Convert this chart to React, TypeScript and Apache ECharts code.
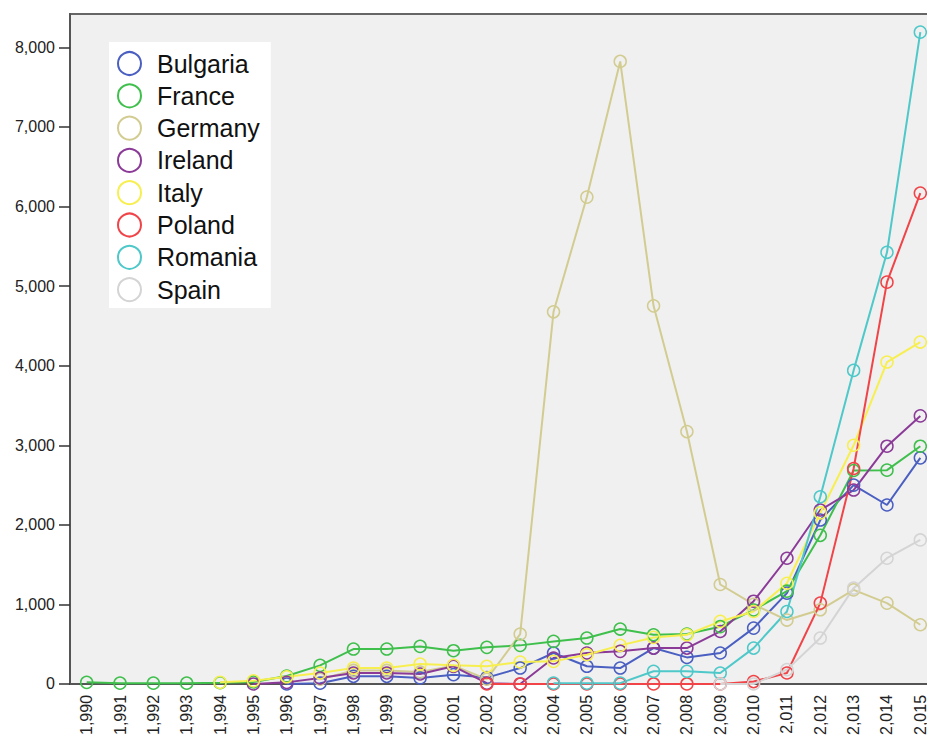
import React, { useEffect, useRef } from "react";
import * as echarts from "echarts";

const years = [
  1990, 1991, 1992, 1993, 1994, 1995, 1996, 1997, 1998, 1999, 2000, 2001, 2002,
  2003, 2004, 2005, 2006, 2007, 2008, 2009, 2010, 2011, 2012, 2013, 2014, 2015,
];

const N = null;

const bulgaria = [N, N, N, N, N, N, 0, 10, 96, 96, 75, 117, 80, 200, 389, 222, 200, 451, 334, 389, 702, 1141, 2060, 2499, 2249, 2842];
const france = [20, 10, 10, 10, 15, 25, 100, 234, 439, 439, 472, 418, 460, 485, 535, 577, 690, 618, 627, 720, 930, 1166, 1868, 2683, 2687, 2988];
const germany = [N, N, N, N, N, N, N, 60, 170, 170, 150, 230, 60, 627, 4677, 6119, 7824, 4752, 3172, 1250, 1000, 803, 932, 1183, 1016, 744];
const ireland = [N, N, N, N, N, 0, 20, 75, 138, 138, 125, 222, 10, 0, 326, 389, 410, 451, 451, 660, 1040, 1580, 2186, 2437, 2988, 3369];
const italy = [N, N, N, N, 20, 40, 90, 138, 200, 200, 250, 234, 222, 276, 284, 368, 485, 585, 618, 786, 911, 1266, 2150, 3000, 4046, 4297];
const poland = [N, N, N, N, N, N, N, N, N, N, N, N, 0, 0, 0, 0, 0, 0, 0, 0, 30, 138, 1016, 2708, 5050, 6169];
const romania = [N, N, N, N, N, N, N, N, N, N, N, N, N, N, 10, 10, 10, 159, 159, 138, 451, 911, 2353, 3941, 5425, 8192];
const spain = [N, N, N, N, N, N, N, N, N, N, N, N, N, N, N, N, N, N, N, 0, 0, 180, 577, 1204, 1580, 1810];

const seriesNames = ["Bulgaria", "France", "Germany", "Ireland", "Italy", "Poland", "Romania", "Spain"];
const seriesData = [bulgaria, france, germany, ireland, italy, poland, romania, spain];
const seriesColors = ["#4a5fc1", "#3fbf4c", "#d2cc91", "#8b3a98", "#f7ef4f", "#f04448", "#4ec8c9", "#d4d4d4"];

const yTicks = [0, 1000, 2000, 3000, 4000, 5000, 6000, 7000, 8000];

const fmt = (v: number) => String(v).replace(/\B(?=(\d{3})+(?!\d))/g, ",");

export default function App() {
  const ref = useRef<HTMLDivElement>(null);
  useEffect(() => {
    if (!ref.current) return;
    const chart = echarts.init(ref.current, null, { renderer: "svg" });
    const font = "Liberation Sans, Arial, sans-serif";
    chart.setOption({
      animation: false,
      backgroundColor: "#ffffff",
      textStyle: { fontFamily: font },
      grid: {
        left: 70,
        top: 14,
        bottom: 52,
        right: 0,
        show: true,
        backgroundColor: "#f0f0f0",
        borderColor: "#666666",
        borderWidth: 2,
      },
      legend: {
        orient: "vertical",
        left: 109,
        top: 42,
        backgroundColor: "#ffffff",
        padding: [9, 11, 6, 8],
        itemWidth: 23,
        itemHeight: 23,
        itemGap: 7.3,
        icon: "circle",
        textStyle: {
          fontSize: 25,
          lineHeight: 23,
          color: "#111111",
          fontFamily: font,
          padding: [0, 0, 0, 11],
        },
        data: seriesNames.map((n, i) => ({
          name: n,
          itemStyle: { color: "#ffffff", borderColor: seriesColors[i], borderWidth: 2 },
        })),
      },
      xAxis: {
        type: "category",
        data: years.map(String),
        boundaryGap: true,
        axisLine: { lineStyle: { color: "#555555", width: 2 } },
        axisTick: { alignWithLabel: true, length: 9, lineStyle: { color: "#333333", width: 1.5 } },
        axisLabel: {
          interval: 0,
          rotate: 90,
          margin: 11,
          fontSize: 16,
          color: "#222222",
          fontFamily: font,
          formatter: (v: string) => fmt(Number(v)),
        },
        splitLine: { show: false },
      },
      yAxis: {
        type: "value",
        min: 0,
        max: 8420,
        interval: 1000,
        axisLine: { show: true, lineStyle: { color: "#555555", width: 2 } },
        axisTick: { show: true, length: 11, customValues: yTicks, lineStyle: { color: "#333333", width: 1.5 } },
        axisLabel: {
          customValues: yTicks,
          margin: 15,
          fontSize: 16,
          color: "#222222",
          fontFamily: font,
          formatter: (v: number) => fmt(v),
        },
        splitLine: { show: false },
      },
      series: seriesNames.map((n, i) => ({
        name: n,
        type: "line",
        data: seriesData[i],
        symbol: "circle",
        symbolSize: 12,
        connectNulls: false,
        lineStyle: { color: seriesColors[i], width: 2 },
        itemStyle: { color: "transparent", borderColor: seriesColors[i], borderWidth: 1.5 },
        emphasis: { disabled: true },
      })),
    });
    return () => chart.dispose();
  }, []);
  return (
    <div
      style={{
        position: "absolute",
        left: 0,
        top: 0,
        width: 927,
        height: 738,
        overflow: "hidden",
      }}
    >
      <div ref={ref} style={{ width: 937, height: 738 }} />
    </div>
  );
}
